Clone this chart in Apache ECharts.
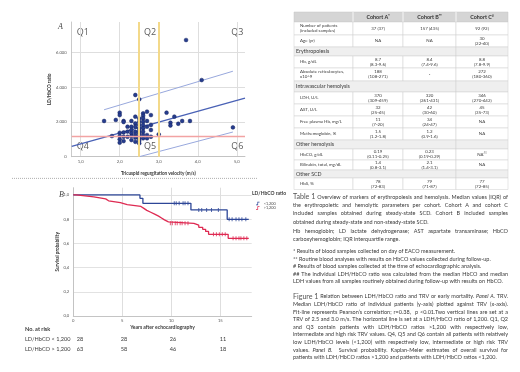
<!DOCTYPE html>
<html>
<head>
<meta charset="utf-8">
<script src="https://cdn.jsdelivr.net/npm/echarts@6/dist/echarts.min.js"></script>
<style>
  html, body { margin: 0; padding: 0; background: #fff; }
  #main { width: 520px; height: 372px; }
</style>
</head>
<body>
<div id="main"></div>
<script>
// Panel A: TRV (m/s) vs median LD/HbCO ratio
const trv = [
  1.6, 1.8, 1.9,
  2.0, 2.0, 2.0, 2.0, 2.0, 2.0,
  2.1, 2.1, 2.1, 2.1, 2.1,
  2.2, 2.2, 2.2,
  2.3, 2.3, 2.3, 2.3, 2.3, 2.3,
  2.4, 2.4, 2.4, 2.4, 2.4, 2.4, 2.4, 2.4,
  2.5, 2.5, 2.5, 2.5, 2.5, 2.5, 2.5, 2.5, 2.5, 2.5, 2.5,
  2.6, 2.6, 2.6, 2.6, 2.6, 2.6, 2.6, 2.6, 2.6,
  2.7, 2.7, 2.7, 2.7, 2.7,
  2.8, 2.8, 2.8, 2.8,
  3.0, 3.2, 3.3, 3.3, 3.4, 3.5, 3.6, 3.7, 3.8, 4.1, 4.9
];
const ldhHbco = [
  2060, 1190, 2120,
  2540, 2400, 1380, 1190, 1000, 810,
  2060, 2000, 1400, 1150, 900,
  1730, 1450, 1150,
  2060, 1730, 1540, 1350, 1190, 960,
  3560, 2310, 1920, 1730, 1440, 1250, 1100, 860,
  3310, 2210, 2020, 1830, 1630, 1480, 1350, 1190, 1060, 920, 770,
  2500, 2360, 2210, 2020, 1830, 1640, 1440, 1250, 1060,
  2600, 2060, 1730, 1250, 1060,
  2400, 1830, 1540, 1150,
  1290, 2540, 1960, 1800, 2310, 1900, 2060, 6730, 2060, 4420, 1690
];
const fitLine = [[0.77, 594], [5.21, 3383]];
const upperBand = [[1.6, 2709], [4.9, 4930]];
const lowerBand = [[2.5, 0], [4.9, 1423]];
const trvCutoffs = [2.5, 3.0];
const ratioCutoff = 1200;
const quadrants = ['Q1', 'Q2', 'Q3', 'Q4', 'Q5', 'Q6'];

// Panel B: Kaplan-Meier
const lowYears = [0, 6.8, 7.1, 12.0, 15.7, 17.9];
const lowSurv = [1, 0.972, 0.931, 0.876, 0.799, 0.799];
const lowCensorYears = [10.3, 10.5, 10.8, 11.2, 11.4, 11.7, 12.8, 13.1, 13.6, 14.1, 14.8, 15.9, 16.2, 16.6, 16.9, 17.2, 17.6];
const lowCensorSurv = [0.931, 0.931, 0.931, 0.931, 0.931, 0.931, 0.876, 0.876, 0.876, 0.876, 0.876, 0.799, 0.799, 0.799, 0.799, 0.799, 0.799];
const highYears = [0, 0.3, 2.1, 3.3, 3.6, 4.8, 5.5, 6.9, 7.2, 7.5, 7.9, 8.3, 8.7, 9.0, 9.3, 9.7, 12.3, 12.8, 13.2, 13.5, 13.8, 15.8, 17.9];
const highSurv = [1, 0.984, 0.968, 0.952, 0.937, 0.921, 0.905, 0.889, 0.873, 0.857, 0.841, 0.825, 0.810, 0.794, 0.778, 0.766, 0.750, 0.733, 0.716, 0.699, 0.675, 0.642, 0.642];
const highCensorYears = [9.9, 10.1, 10.4, 10.6, 10.9, 11.1, 11.4, 11.7, 14.3, 14.6, 14.9, 15.2, 15.5, 16.3, 16.6, 16.9, 17.1, 17.4, 17.7];
const highCensorSurv = [0.766, 0.766, 0.766, 0.766, 0.766, 0.766, 0.766, 0.766, 0.675, 0.675, 0.675, 0.675, 0.675, 0.642, 0.642, 0.642, 0.642, 0.642, 0.642];
const groupNames = ['<1,200', '>1,200'];
const riskLabels = ['LD/HbCO < 1,200', 'LD/HbCO > 1,200'];
const riskLow = [28, 28, 26, 11];
const riskHigh = [63, 58, 46, 18];

// Table 1
const cohortHeaders = ['Cohort A', 'Cohort B', 'Cohort C'];
const cohortMarks = ['*', '**', '#'];
const tableRows = [
  ['Number of patients\n(included samples)', '37 (37)', '157 (435)', '92 (92)'],
  ['Age (yr)', 'NA', 'NA', '30\n(22-40)'],
  ['Erythropoiesis'],
  ['Hb, g/dL', '8.7\n(8.3-9.6)', '8.4\n(7.4-9.6)', '8.8\n(7.8-9.9)'],
  ['Absolute reticulocytes,\nx10^9', '188\n(108-271)', '-', '272\n(180-360)'],
  ['Intravascular hemolysis'],
  ['LDH, U/L', '370\n(309-459)', '320\n(261-431)', '346\n(270-442)'],
  ['AST, U/L', '32\n(25-45)', '42\n(30-60)', '45\n(35-73)'],
  ['Free plasma Hb, mg/L', '11\n(7-20)', '34\n(24-47)', 'NA'],
  ['Methemoglobin, %', '1.5\n(1.2-1.8)', '1.2\n(0.9-1.6)', 'NA'],
  ['Other hemolysis'],
  ['HbCO, g/dL', '0.19\n(0.11-0.25)', '0.23\n(0.19-0.29)', 'NA{s|##}'],
  ['Bilirubin, total, mg/dL', '1.4\n(0.8-3.1)', '2.1\n(1.4-3.1)', 'NA'],
  ['Other SCD'],
  ['HbS, %', '78\n(72-83)', '79\n(71-87)', '77\n(72-85)']
];
const rowHeights = [13, 12, 9, 12, 13, 11, 12, 12, 12, 12, 9, 11, 10, 8, 11.5];

// captions: [text, justified]; ^ = heading word, ~ = italic word
const tableCaption = [
  ['^Table ^1 Overview of markers of erythropoiesis and hemolysis. Median values (IQR) of', true],
  ['the erythropoietic and hemolytic parameters per cohort. Cohort A and cohort C', true],
  ['included samples obtained during steady-state SCD. Cohort B included samples', true],
  ['obtained during steady-state and non-steady-state SCD.', false],
  ['Hb hemoglobin; LD lactate dehydrogenase; AST aspartate transaminase; HbCO', true],
  ['carboxyhemoglobin; IQR interquartile range.', false],
  ['* Results of blood samples collected on day of EACO measurement.', false],
  ['** Routine blood analyses with results on HbCO values collected during follow-up.', false],
  ['# Results of blood samples collected at the time of echocardiographic analysis.', false],
  ['## The individual LDH/HbCO ratio was calculated from the median HbCO and median', true],
  ['LDH values from all samples routinely obtained during follow-up with results on HbCO.', false]
];
const tableCaptionY = [197, 205.3, 213.6, 221.9, 231, 239, 251.5, 259, 266.5, 274, 281.5];
const figureCaption = [
  ['^Figure ^1 Relation between LDH/HbCO ratio and TRV or early mortality. ~Panel ~A. TRV.', true],
  ['Median LDH/HbCO ratio of individual patients (y-axis) plotted against TRV (x-axis).', true],
  ['Fit-line represents Pearson\u2019s correlation; r=0.38,  p <0.01.Two vertical lines are set at a', true],
  ['TRV of 2.5 and 3.0 m/s. The horizontal line is set at a LDH/HbCO ratio of 1,200. Q1, Q2', true],
  ['and Q3 contain patients with LDH/HbCO ratios >1,200 with respectively low,', true],
  ['intermediate and high risk TRV values. Q4, Q5 and Q6 contain all patients with relatively', true],
  ['low LDH/HbCO levels (<1,200) with respectively low, intermediate or high risk TRV', true],
  ['values. ~Panel ~B.  Survival probability. Kaplan-Meier estimates of overall survival for', true],
  ['patients with LDH/HbCO ratios >1,200 and patients with LDH/HbCO ratios <1,200.', false]
];
const FONT = 'Lato';
const TXT = '#3a3a3a';

const chart = echarts.init(document.getElementById('main'));

const mctx = document.createElement('canvas').getContext('2d');
function textWidth(str, size, style) {
  mctx.font = (style || '') + ' ' + size + 'px ' + FONT;
  return mctx.measureText(str).width;
}

function captionLine(line, x, y, width, size) {
  const words = line[0].split(' ');
  const parts = words.map(w => {
    let st = { size: size, italic: false, fill: TXT };
    if (w.startsWith('^')) { w = w.slice(1); st = { size: size + 1.6, italic: false, fill: '#555' }; }
    else if (w.startsWith('~')) { w = w.slice(1); st.italic = true; }
    return { w, st, width: textWidth(w, st.size, st.italic ? 'italic' : '') };
  });
  const space = textWidth(' ', size);
  const total = parts.reduce((s, p) => s + p.width, 0);
  const gap = line[1] ? (width - total) / (parts.length - 1) : space;
  let cx = x;
  const out = [];
  parts.forEach(p => {
    if (p.w !== '') {
      out.push({
        type: 'text', silent: true,
        style: {
          text: p.w, x: cx, y: y, fill: p.st.fill, fontSize: p.st.size, fontFamily: FONT,
          fontStyle: p.st.italic ? 'italic' : 'normal', verticalAlign: 'middle', align: 'left'
        }
      });
    }
    cx += p.width + gap;
  });
  return out;
}

const graphics = [];
function txt(text, x, y, opts) {
  graphics.push({
    type: 'text', silent: true,
    style: Object.assign({
      text: text, x: x, y: y, fill: TXT, fontSize: 5, fontFamily: FONT,
      align: 'left', verticalAlign: 'middle'
    }, opts || {})
  });
}

// panel letters and quadrant labels
txt('A', 58, 27, { fontSize: 8, fontStyle: 'italic', fontFamily: 'Liberation Serif', fill: '#444' });
txt('B', 59, 195, { fontSize: 8, fontStyle: 'italic', fontFamily: 'Liberation Serif', fill: '#444' });
const qPos = [[82.7, 32.3], [150, 32.3], [237.3, 32.3], [82.7, 146], [150, 146], [237.3, 146]];
quadrants.forEach((q, i) => txt(q, qPos[i][0], qPos[i][1], { fontSize: 9, fill: '#5a5a5a', align: 'center', fontFamily: 'Open Sans' }));

// dotted separator
graphics.push({ type: 'line', silent: true, shape: { x1: 12, y1: 178.3, x2: 258, y2: 178.3 }, style: { stroke: '#9a9a9a', lineWidth: 0.8, lineDash: [1, 1] } });

// legend title
txt('LD/HbCO ratio', 252, 193, { fontSize: 5, fontWeight: 'bold' });

// numbers at risk
txt('No. at risk', 25, 329, { fontSize: 5.6, fontWeight: 'bold' });
txt('Years after echocardiography', 162.5, 327.5, { fontSize: 5, fontWeight: 'bold', align: 'center' });
const riskX = [80, 124, 173, 223];
riskLabels.forEach((lab, r) => {
  const y = r === 0 ? 339.3 : 349.3;
  txt(lab, 25, y, { fontSize: 5.6 });
  (r === 0 ? riskLow : riskHigh).forEach((n, i) => txt(String(n), riskX[i], y, { fontSize: 5.6, align: 'center' }));
});

// Table 1
const colX = [294, 353, 403, 456, 508];
const tableTop = 12, headH = 10;
graphics.push({ type: 'rect', silent: true, shape: { x: colX[0], y: tableTop, width: colX[4] - colX[0], height: headH }, style: { fill: '#d5d5d5', stroke: '#c4c4c4', lineWidth: 0.5 } });
for (let c = 1; c < 4; c++) {
  graphics.push({ type: 'line', silent: true, shape: { x1: colX[c], y1: tableTop, x2: colX[c], y2: tableTop + headH }, style: { stroke: '#fff', lineWidth: 0.8 } });
  graphics.push({
    type: 'text', silent: true,
    style: {
      text: cohortHeaders[c - 1] + '{s|' + cohortMarks[c - 1] + '}', x: (colX[c] + colX[c + 1]) / 2, y: tableTop + headH / 2,
      fill: '#333', fontSize: 5.4, fontWeight: 'bold', fontFamily: FONT, align: 'center', verticalAlign: 'middle',
      rich: { s: { fontSize: 3.6, fontWeight: 'bold', fill: '#333', verticalAlign: 'top', padding: [0, 0, 3, 0] } }
    }
  });
}
let ry = tableTop + headH;
tableRows.forEach((row, i) => {
  const h = rowHeights[i];
  if (row.length === 1) {
    graphics.push({ type: 'rect', silent: true, shape: { x: colX[0], y: ry, width: colX[3] - colX[0], height: h }, style: { fill: '#efefef', stroke: '#cfcfcf', lineWidth: 0.5 } });
    graphics.push({ type: 'rect', silent: true, shape: { x: colX[3], y: ry, width: colX[4] - colX[3], height: h }, style: { fill: '#efefef', stroke: '#cfcfcf', lineWidth: 0.5 } });
    txt(row[0], colX[0] + 2, ry + h / 2, { fontSize: 5.3 });
  } else {
    for (let c = 0; c < 4; c++) {
      graphics.push({ type: 'rect', silent: true, shape: { x: colX[c], y: ry, width: colX[c + 1] - colX[c], height: h }, style: { fill: '#fff', stroke: '#cfcfcf', lineWidth: 0.5 } });
    }
    txt(row[0], colX[0] + 6, ry + h / 2, { fontSize: 4.4, lineHeight: 5 });
    for (let c = 1; c < 4; c++) {
      graphics.push({
        type: 'text', silent: true,
        style: {
          text: row[c], x: (colX[c] + colX[c + 1]) / 2, y: ry + h / 2, fill: TXT, fontSize: 4.4, lineHeight: 5,
          fontFamily: FONT, align: 'center', verticalAlign: 'middle',
          rich: { s: { fontSize: 3, fill: TXT, verticalAlign: 'top' } }
        }
      });
    }
  }
  ry += h;
});

// captions
tableCaption.forEach((line, i) => captionLine(line, 293, tableCaptionY[i], 215, 5.5).forEach(g => graphics.push(g)));
figureCaption.forEach((line, i) => captionLine(line, 293, 296.7 + i * 7.6, 215, 5.5).forEach(g => graphics.push(g)));

const thousands = v => String(v).replace(/\B(?=(\d{3})+$)/g, '.');
const comma1 = v => v.toFixed(1).replace('.', ',');
const axisName = { fontSize: 4.6, fontWeight: 'bold', color: '#333', fontFamily: FONT };
const tickLabel = { fontSize: 4.2, color: '#555', fontFamily: FONT };

const option = {
  backgroundColor: '#fff',
  animation: false,
  textStyle: { fontFamily: FONT },
  grid: [
    { left: 71.7, top: 22, width: 173.3, height: 134.7, outerBoundsMode: 'none' },
    { left: 73.3, top: 187.7, width: 178.4, height: 128.3, outerBoundsMode: 'none' }
  ],
  legend: {
    data: groupNames, left: 251, top: 196.5, orient: 'vertical', itemWidth: 8, itemHeight: 3.5, itemGap: 0.5,
    icon: 'path://M0,8 L4,8 L4,0 L10,0 L10,2 L6,2 L6,10 L0,10 Z',
    textStyle: { fontSize: 3.8, color: '#444', fontFamily: FONT, padding: [0, 0, 0, -3] }
  },
  xAxis: [
    {
      gridIndex: 0, type: 'value', min: 0.77, max: 5.21,
      axisLine: { show: true, lineStyle: { color: '#bdbdbd', width: 0.8 } },
      axisTick: { show: false, customValues: [1, 2, 3, 4, 5] },
      axisLabel: Object.assign({ customValues: [1, 2, 3, 4, 5], formatter: comma1, margin: 3 }, tickLabel),
      splitLine: { show: true, lineStyle: { color: '#dedede', width: 1 } },
      name: 'Tricuspid regurgitation velocity (m/s)', nameLocation: 'middle', nameGap: 14, nameTextStyle: axisName
    },
    {
      gridIndex: 1, type: 'value', min: 0, max: 18.2, interval: 5,
      axisLine: { show: true, lineStyle: { color: '#bdbdbd', width: 0.8 } },
      axisTick: { show: false },
      axisLabel: Object.assign({ formatter: v => String(v), margin: 3, showMaxLabel: false }, tickLabel),
      splitLine: { show: true, showMaxLine: false, lineStyle: { color: '#dedede', width: 1 } }
    }
  ],
  yAxis: [
    {
      gridIndex: 0, type: 'value', min: 0, max: 7770, interval: 2000,
      axisLine: { show: true, lineStyle: { color: '#bdbdbd', width: 0.8 } },
      axisTick: { show: false },
      axisLabel: Object.assign({ formatter: thousands, margin: 5, showMaxLabel: false }, tickLabel),
      splitLine: { show: true, showMaxLine: false, lineStyle: { color: '#dedede', width: 1 } },
      name: 'LD/HbCO ratio', nameLocation: 'middle', nameGap: 17, nameTextStyle: axisName
    },
    {
      gridIndex: 1, type: 'value', min: 0, max: 1.06, interval: 0.2,
      axisLine: { show: true, lineStyle: { color: '#bdbdbd', width: 0.8 } },
      axisTick: { show: false },
      axisLabel: Object.assign({ formatter: comma1, margin: 4, showMaxLabel: false }, tickLabel),
      splitLine: { show: true, showMaxLine: false, lineStyle: { color: '#e2e2e2', width: 1 } },
      name: 'Survival probability', nameLocation: 'middle', nameGap: 12, nameTextStyle: axisName
    }
  ],
  series: [
    {
      name: 'cutoffs', type: 'line', xAxisIndex: 0, yAxisIndex: 0, data: [], z: 1,
      markLine: {
        silent: true, symbol: 'none', label: { show: false },
        data: [
          { xAxis: trvCutoffs[0], lineStyle: { color: '#f3d98a', width: 2, type: 'solid' } },
          { xAxis: trvCutoffs[1], lineStyle: { color: '#f3d98a', width: 2, type: 'solid' } },
          { yAxis: ratioCutoff, lineStyle: { color: '#f2a3a3', width: 1.3, type: 'solid' } }
        ]
      }
    },
    {
      name: 'fit', type: 'line', xAxisIndex: 0, yAxisIndex: 0, data: fitLine, showSymbol: false, z: 2,
      lineStyle: { color: '#4a62b6', width: 1.4 }
    },
    {
      name: 'upper', type: 'line', xAxisIndex: 0, yAxisIndex: 0, data: upperBand, showSymbol: false, z: 2,
      lineStyle: { color: '#98a8dd', width: 1 }
    },
    {
      name: 'lower', type: 'line', xAxisIndex: 0, yAxisIndex: 0, data: lowerBand, showSymbol: false, z: 2,
      lineStyle: { color: '#98a8dd', width: 1 }
    },
    {
      name: 'patients', type: 'scatter', xAxisIndex: 0, yAxisIndex: 0, z: 3,
      data: trv.map((x, i) => [x, ldhHbco[i]]),
      symbolSize: 3.8,
      itemStyle: { color: '#263d8f', borderColor: '#14235e', borderWidth: 0.5, opacity: 1 }
    },
    {
      name: groupNames[0], type: 'line', step: 'end', xAxisIndex: 1, yAxisIndex: 1, showSymbol: false, symbol: 'none',
      data: lowYears.map((t, i) => [t, lowSurv[i]]),
      color: '#2d4697', lineStyle: { color: '#2d4697', width: 1.3 }
    },
    {
      name: groupNames[1], type: 'line', step: 'end', xAxisIndex: 1, yAxisIndex: 1, showSymbol: false, symbol: 'none',
      data: highYears.map((t, i) => [t, highSurv[i]]),
      color: '#de2a52', lineStyle: { color: '#de2a52', width: 1.3 }
    },
    {
      name: 'censor low', type: 'scatter', xAxisIndex: 1, yAxisIndex: 1, symbol: 'rect', symbolSize: [1, 4],
      data: lowCensorYears.map((t, i) => [t, lowCensorSurv[i]]), itemStyle: { color: '#2d4697' }
    },
    {
      name: 'censor high', type: 'scatter', xAxisIndex: 1, yAxisIndex: 1, symbol: 'rect', symbolSize: [1, 4],
      data: highCensorYears.map((t, i) => [t, highCensorSurv[i]]), itemStyle: { color: '#de2a52' }
    }
  ],
  graphic: graphics
};

chart.setOption(option);
</script>
</body>
</html>
